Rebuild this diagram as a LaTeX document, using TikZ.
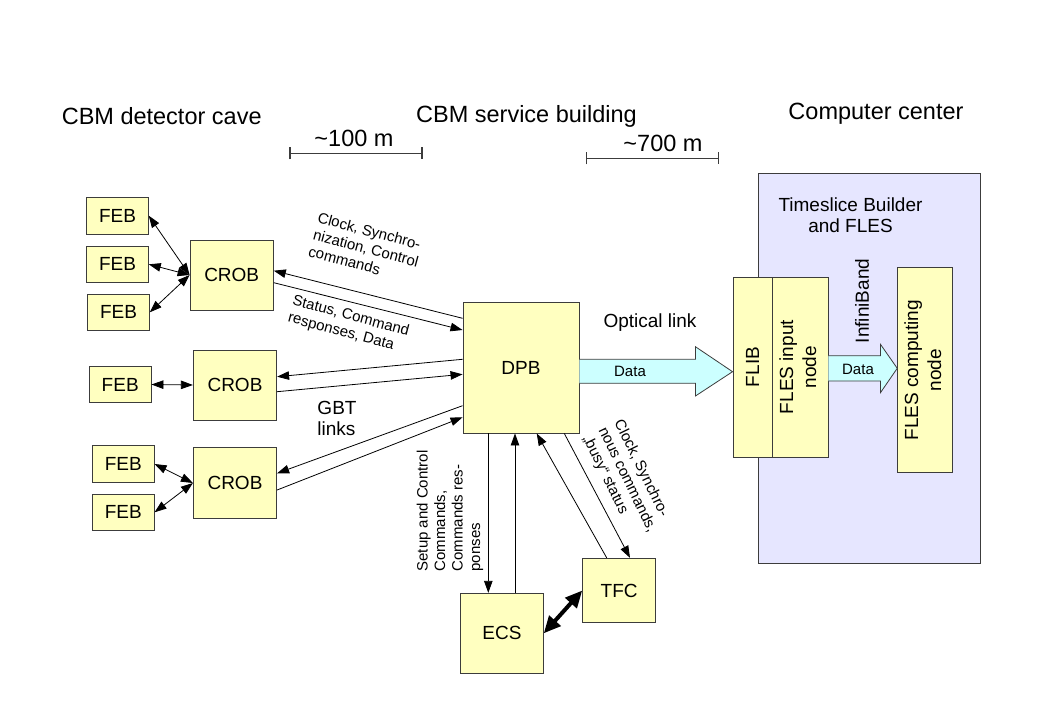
\documentclass[tikz,border=0pt]{standalone}
\usepackage{fontspec}
\setmainfont{Liberation Sans}
\usetikzlibrary{arrows.meta,calc}
\definecolor{boxfill}{HTML}{FFFFC0}
\definecolor{ccfill}{HTML}{E6E6FF}
\definecolor{arrfill}{HTML}{CCFFFF}
\definecolor{edgecol}{HTML}{3C3C3C}
\newcommand{\fbig}{\fontsize{23.5}{27}\selectfont}
\newcommand{\fmid}{\fontsize{19}{21}\selectfont}
\newcommand{\fmidb}{\fontsize{19}{23}\selectfont}
\newcommand{\fsml}{\fontsize{15}{17.5}\selectfont}
\begin{document}
\begin{tikzpicture}[x=1pt,y=-1pt,
  box/.style={draw=edgecol, fill=boxfill, line width=0.9pt, inner sep=0pt, font=\fmid},
  conn/.style={line width=0.8pt, -{Triangle[length=12pt,width=8.5pt]}},
  both/.style={line width=0.8pt, {Triangle[length=12pt,width=8.5pt]}-{Triangle[length=12pt,width=8.5pt]}},
  thickboth/.style={line width=4pt, {Triangle[length=17pt,width=15pt]}-{Triangle[length=17pt,width=15pt]}},
  bigarrow/.style={draw=edgecol, fill=arrfill, line width=0.8pt, line join=miter},
  scalebar/.style={line width=1.3pt, draw=edgecol, {Bar[width=12pt]}-{Bar[width=12pt]}},
  lbl/.style={inner sep=0pt}
]
\useasboundingbox (0,0) rectangle (1053,706);

% computer center
\node[draw=edgecol, fill=ccfill, line width=0.9pt, minimum width=222pt, minimum height=390pt, inner sep=0pt] (cc) at (869,368) {};

% titles
\node[lbl, font=\fbig, anchor=base] (t1) at (161.7,125) {CBM detector cave};
\node[lbl, font=\fbig, anchor=base] (t2) at (526.5,123) {CBM service building};
\node[lbl, font=\fbig, anchor=base] (t3) at (876,120) {Computer center};

% scale bars
\coordinate (s1a) at (289.3,153.3);
\coordinate (s1b) at (422.7,153.3);
\coordinate (s2a) at (586,158.3);
\coordinate (s2b) at (719.3,158.3);
\draw[scalebar] (s1a) -- (s1b);
\draw[scalebar] (s2a) -- (s2b);
\node[lbl, font=\fbig, anchor=base] (d1) at (354,146.7) {\textasciitilde100 m};
\node[lbl, font=\fbig, anchor=base] (d2) at (663,151.7) {\textasciitilde700 m};

% FEBs
\node[box, minimum width=61.6pt, minimum height=36.7pt] (feb1) at (117.5,215.7) {FEB};
\node[box, minimum width=61.6pt, minimum height=36.7pt] (feb2) at (117.5,264.3) {FEB};
\node[box, minimum width=61.6pt, minimum height=36.7pt] (feb3) at (118.5,312.3) {FEB};
\node[box, minimum width=61.6pt, minimum height=36.7pt] (feb4) at (120.2,384.5) {FEB};
\node[box, minimum width=61.6pt, minimum height=36.7pt] (feb5) at (123.3,464) {FEB};
\node[box, minimum width=61.6pt, minimum height=36.7pt] (feb6) at (123.3,512.3) {FEB};

% CROBs
\node[box, minimum width=83.3pt, minimum height=70pt] (crob1) at (231.7,275) {CROB};
\node[box, minimum width=83.3pt, minimum height=70pt] (crob2) at (235,385) {CROB};
\node[box, minimum width=83.3pt, minimum height=70.6pt] (crob3) at (235,483) {CROB};

% DPB, ECS, TFC
\node[box, minimum width=116pt, minimum height=131pt] (dpb) at (521,367.5) {DPB};
\node[box, minimum width=82.6pt, minimum height=80pt] (ecs) at (502,633.3) {ECS};
\node[box, minimum width=73pt, minimum height=64.4pt] (tfc) at (619.2,590.5) {TFC};

% FLIB, FLES
\node[box, minimum width=39pt, minimum height=180pt] (flib) at (752.5,367) {\rotatebox{90}{FLIB}};
\node[box, minimum width=56pt, minimum height=180pt] (flesin) at (800,367) {\rotatebox{90}{\fmidb\begin{tabular}{@{}c@{}}FLES input\\node\end{tabular}}};
\node[box, minimum width=54.6pt, minimum height=205pt] (flescomp) at (925,370.2) {\rotatebox{90}{\fmidb\begin{tabular}{@{}c@{}}FLES computing\\node\end{tabular}}};

% FEB - CROB
\draw[both] (feb1.east) -- (crob1.west);
\draw[both] (feb2.east) -- (crob1.west);
\draw[both] (feb3.east) -- (crob1.west);
\draw[both] (feb4.east) -- (crob2.west);
\draw[both] (feb5.east) -- (crob3.west);
\draw[both] (feb6.east) -- (crob3.west);

% CROB - DPB
\draw[conn] ($(dpb.west)+(0,-49.2)$) -- ($(crob1.east)+(0,-4.3)$);
\draw[conn] ($(crob1.east)+(0,7.7)$) -- ($(dpb.west)+(0,-37.5)$);
\draw[conn] ($(dpb.west)+(0,-8.2)$) -- ($(crob2.east)+(0,-8.3)$);
\draw[conn] ($(crob2.east)+(0,6.7)$) -- ($(dpb.west)+(0,6.8)$);
\draw[conn] ($(dpb.west)+(0,38.2)$) -- ($(crob3.east)+(0,-9.7)$);
\draw[conn] ($(crob3.east)+(0,7)$) -- ($(dpb.west)+(0,49.8)$);

% DPB - ECS/TFC
\draw[conn] ($(dpb.south)+(-32.7,0)$) -- ($(ecs.north)+(-13.7,0)$);
\draw[conn] ($(ecs.north)+(13,0)$) -- ($(dpb.south)+(-6,0)$);
\draw[conn] ($(dpb.south)+(43.3,0)$) -- ($(tfc.north)+(10.8,0)$);
\draw[conn] ($(tfc.north)+(-12.5,0)$) -- ($(dpb.south)+(15.7,0)$);
\draw[thickboth] (ecs.east) -- (tfc.west);

% big arrows
\draw[bigarrow] ($(dpb.east)+(0,-8.2)$) -- ($(dpb.east)+(116,-8.2)$) -- ($(dpb.east)+(116,-20.8)$)
  -- ($(flib.west)+(0,4.7)$) -- ($(dpb.east)+(116,28.5)$) -- ($(dpb.east)+(116,15.8)$) -- ($(dpb.east)+(0,15.8)$);
\draw[bigarrow] ($(flesin.east)+(0,-11.3)$) -- ($(flesin.east)+(52,-11.3)$) -- ($(flesin.east)+(52,-22.7)$)
  -- ($(flescomp.west)+(0,-1.9)$) -- ($(flesin.east)+(52,25.7)$) -- ($(flesin.east)+(52,14)$) -- ($(flesin.east)+(0,14)$);

% labels
\node[lbl, font=\fsml] (dl1) at (630,371) {Data};
\node[lbl, font=\fsml] (dl2) at (858,369) {Data};
\node[lbl, font=\fmid] (opt) at (650,323) {Optical link};
\node[lbl, font=\fmid, rotate=90] (ib) at (862,301) {InfiniBand};
\node[lbl, font=\fmid, align=center] (tsb) at (850.5,215) {Timeslice Builder\\and FLES};
\node[lbl, font=\fmid, align=left] (gbt) at (337,418) {GBT\\links};

\node[lbl, font=\fsml, align=left, rotate=-15] (l1) at (366,248) {Clock, Synchro-\\nization, Control\\commands};
\node[lbl, font=\fsml, align=left, rotate=-15] (l2) at (348.5,325) {Status, Command\\responses, Data};
\node[lbl, font=\fsml, align=left, rotate=90] (l3) at (450,511) {Setup and Control\\Commands,\\Commands res-\\ponses};
\node[lbl, font=\fsml, align=left, rotate=-64] (l4) at (627,480) {Clock, Synchro-\\nous commands,\\„busy“ status};
\end{tikzpicture}
\end{document}
